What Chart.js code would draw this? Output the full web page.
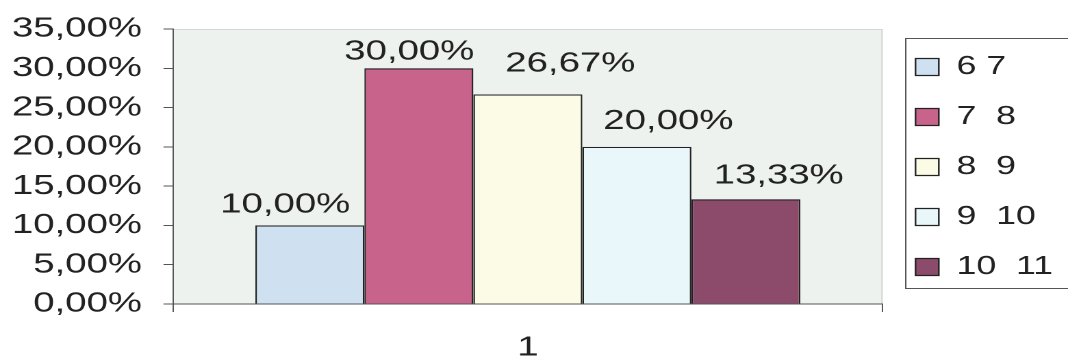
<!DOCTYPE html>
<html>
<head>
<meta charset="utf-8">
<script src="https://cdn.jsdelivr.net/npm/chart.js@4"></script>
<style>
  html, body { margin: 0; padding: 0; background: #fff; overflow: hidden; }
  /* the scanned original is stretched sideways, so the chart is drawn narrow and widened */
  #wrap { width: 780px; height: 361px; transform: scaleX(1.369231); transform-origin: 0 0; }
</style>
</head>
<body>
<div id="wrap"><canvas id="chart"></canvas></div>
<script>
const categories = ['1'];
const seriesNames = ['6 7', '7  8', '8  9', '9  10', '10  11'];
const seriesValues = [0.10, 0.30, 0.2667, 0.20, 0.1333];
const seriesColors = ['#cfe0f1', '#c8638b', '#fbfbe6', '#e9f7fa', '#8c4b6b'];
const yTickLabels = ['0,00%', '5,00%', '10,00%', '15,00%', '20,00%', '25,00%', '30,00%', '35,00%'];

// where Excel put each value label, relative to its bar (px)
const labelShiftX = [-18, -7, 31, 23, 24];
const labelGap = [13, 9, 23, 18, 16];

const FONT = '"Liberation Sans", Arial, sans-serif';
Chart.defaults.font.family = FONT;
Chart.defaults.color = '#222';

function fmtPct(v) {
  return (v * 100).toFixed(2).replace('.', ',') + '%';
}

const plotBackground = {
  id: 'plotBackground',
  beforeDraw(chart) {
    const { ctx, chartArea: a } = chart;
    ctx.save();
    ctx.fillStyle = '#eef2ee';
    ctx.fillRect(a.left, a.top, a.width, a.height);
    ctx.strokeStyle = '#d3d7d3';
    ctx.lineWidth = 1;
    ctx.beginPath();
    ctx.moveTo(a.left, a.top + 0.5);
    ctx.lineTo(a.right - 0.5, a.top + 0.5);
    ctx.lineTo(a.right - 0.5, a.bottom);
    ctx.stroke();
    ctx.restore();
  }
};

const valueLabels = {
  id: 'valueLabels',
  afterDatasetsDraw(chart) {
    const ctx = chart.ctx;
    ctx.save();
    ctx.font = '28px ' + FONT;
    ctx.fillStyle = '#222';
    ctx.textAlign = 'center';
    ctx.textBaseline = 'alphabetic';
    chart.data.datasets.forEach((ds, i) => {
      const bar = chart.getDatasetMeta(i).data[0];
      ctx.fillText(fmtPct(ds.data[0]), bar.x + labelShiftX[i], bar.y - labelGap[i]);
    });
    ctx.restore();
  }
};

const legendFrame = {
  id: 'legendFrame',
  afterDraw(chart) {
    const boxes = chart.legend.legendHitBoxes;
    if (!boxes || !boxes.length) return;
    const first = boxes[0];
    const last = boxes[boxes.length - 1];
    const x = Math.round(first.left - 8) + 0.5;
    const top = Math.round(first.top + first.height / 2 - 29) + 0.5;
    const bottom = Math.round(last.top + last.height / 2 + 21) + 0.5;
    const ctx = chart.ctx;
    ctx.save();
    ctx.strokeStyle = '#555';
    ctx.lineWidth = 1;
    ctx.strokeRect(x, top, chart.width - x + 5, bottom - top);
    ctx.restore();
  }
};

new Chart(document.getElementById('chart'), {
  type: 'bar',
  data: {
    labels: categories,
    datasets: seriesNames.map((name, i) => ({
      label: name,
      data: [seriesValues[i]],
      backgroundColor: seriesColors[i],
      borderColor: '#222',
      borderWidth: 1.2
    }))
  },
  options: {
    responsive: true,
    maintainAspectRatio: false,
    animation: false,
    devicePixelRatio: 2,
    // negative top lifts the legend column; the plot top is held by the y axis padding
    layout: { padding: { top: -27, right: 1, bottom: 0, left: 0 } },
    datasets: { bar: { barPercentage: 1, categoryPercentage: 0.768 } },
    plugins: {
      legend: {
        position: 'right',
        labels: { font: { size: 26 }, color: '#222', boxWidth: 17, boxHeight: 17, padding: 24 }
      },
      tooltip: { enabled: false }
    },
    scales: {
      x: {
        grid: { drawOnChartArea: false, tickLength: 8, color: '#555', offset: true },
        border: { color: '#555' },
        ticks: { font: { size: 28 }, color: '#222', padding: 19 },
        afterFit: (s) => { s.height = 57; }
      },
      y: {
        min: 0,
        max: 0.35,
        ticks: {
          stepSize: 0.05,
          font: { size: 28 },
          color: '#222',
          padding: 15.7,
          callback: (v, i) => yTickLabels[i]
        },
        grid: { drawOnChartArea: false, tickLength: 7, color: '#555' },
        border: { color: '#555' },
        afterFit: (s) => { s.width = 126.4; s.paddingTop = 29; }
      }
    }
  },
  plugins: [plotBackground, valueLabels, legendFrame]
});
</script>
</body>
</html>
